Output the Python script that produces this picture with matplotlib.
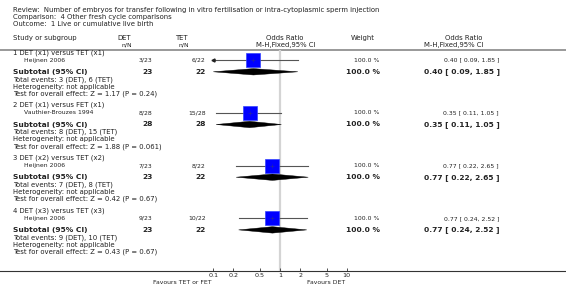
import numpy as np
import matplotlib
matplotlib.use('Agg')
import matplotlib.pyplot as plt
from matplotlib.patches import Polygon

# Dados
review = 'Review:  Number of embryos for transfer following in vitro fertilisation or intra-cytoplasmic sperm injection'
comparison = 'Comparison:  4 Other fresh cycle comparisons'
outcome = 'Outcome:  1 Live or cumulative live birth'

groups = ['1 DET (x1) versus TET (x1)', '2 DET (x1) versus FET (x1)',
          '3 DET (x2) versus TET (x2)', '4 DET (x3) versus TET (x3)']
studies = ['Heijnen 2006', 'Vauthier-Brouzes 1994', 'Heijnen 2006', 'Heijnen 2006']
det_events = [3, 8, 7, 9]
det_total = [23, 28, 23, 23]
tet_events = [6, 15, 8, 10]
tet_total = [22, 28, 22, 22]
ctrl_label = ['TET', 'TET', 'TET', 'TET']
weights = [100.0, 100.0, 100.0, 100.0]
or_est = [0.40, 0.35, 0.77, 0.77]
ci_low = [0.09, 0.11, 0.22, 0.24]
ci_high = [1.85, 1.05, 2.65, 2.52]
z_vals = ['1.17', '1.88', '0.42', '0.43']
p_vals = ['0.24', '0.061', '0.67', '0.67']
ticks = [0.1, 0.2, 0.5, 1, 2, 5, 10]
tick_labels = ['0.1', '0.2', '0.5', '1', '2', '5', '10']

W, H = 566, 301
fig = plt.figure(figsize=(W / 100, H / 100), dpi=100)
ax = fig.add_axes([0, 0, 1, 1])
ax.set_xlim(0, W)
ax.set_ylim(H, 0)
ax.axis('off')

txt = '#222222'
fs = 4.95
fs_small = 4.4
fs_bold = 5.4

# Cabecalho
ax.text(13, 10, review, fontsize=fs, va='center', color=txt)
ax.text(13, 17.3, comparison, fontsize=fs, va='center', color=txt)
ax.text(13, 24, outcome, fontsize=fs, va='center', color=txt)

ax.text(13, 38.3, 'Study or subgroup', fontsize=fs, va='center', color=txt)
ax.text(124.5, 38.3, 'DET', fontsize=fs, va='center', ha='center', color=txt)
ax.text(127, 44.7, 'n/N', fontsize=fs_small, va='center', ha='center', color=txt)
ax.text(181, 38.3, 'TET', fontsize=fs, va='center', ha='center', color=txt)
ax.text(184, 44.7, 'n/N', fontsize=fs_small, va='center', ha='center', color=txt)
ax.text(303, 38.3, 'Odds Ratio', fontsize=fs, va='center', ha='right', color=txt)
ax.text(315, 44.7, 'M-H,Fixed,95% CI', fontsize=fs, va='center', ha='right', color=txt)
ax.text(351, 38.3, 'Weight', fontsize=fs, va='center', color=txt)
ax.text(482, 38.3, 'Odds Ratio', fontsize=fs, va='center', ha='right', color=txt)
ax.text(484, 44.7, 'M-H,Fixed,95% CI', fontsize=fs, va='center', ha='right', color=txt)
ax.plot([0, W], [49.5, 49.5], color='#888888', lw=1.2)

# Eixo do forest plot (escala log), alinhado em pixels
x0, x1 = 213.3, 346.7
y_top, y_bot = 49.5, 271.3
fax = fig.add_axes([x0 / W, 1 - y_bot / H, (x1 - x0) / W, (y_bot - y_top) / H])
fax.set_xscale('log')
fax.set_xlim(0.1, 10)
fax.set_ylim(y_bot, y_top)
fax.patch.set_visible(False)
for s in fax.spines.values():
    s.set_visible(False)
fax.set_yticks([])
fax.set_xticks(ticks)
fax.set_xticklabels(tick_labels)
fax.minorticks_off()
fax.tick_params(axis='x', direction='in', length=2.5, width=0.6, color='#333333',
                labelsize=4.6, pad=1.5, labelcolor=txt)
for lab in fax.get_xticklabels():
    lab.set_x(lab.get_position()[0])
fax.axvline(1, color='#d4d4d4', lw=1.6, zorder=0)

ax.plot([0, W], [271.3, 271.3], color='#333333', lw=0.8)
ax.text(182, 282, 'Favours TET or FET', fontsize=fs_small, ha='center', va='center', color=txt)
ax.text(326, 282, 'Favours DET', fontsize=fs_small, ha='center', va='center', color=txt)

for i in range(len(groups)):
    gy = 52.5 + i * 52.7
    sy = gy + 7.8
    ty = gy + 19.3
    ax.text(13, gy, groups[i], fontsize=fs, va='center', color=txt)
    ax.text(24, sy, studies[i], fontsize=fs_small, va='center', color=txt)
    ax.text(152.7, sy, f'{det_events[i]}/{det_total[i]}', fontsize=fs_small, va='center', ha='right', color=txt)
    ax.text(205.7, sy, f'{tet_events[i]}/{tet_total[i]}', fontsize=fs_small, va='center', ha='right', color=txt)
    ax.text(13, ty, 'Subtotal (95% CI)', fontsize=fs_bold, fontweight='bold', va='center', color=txt)
    ax.text(152.7, ty, str(det_total[i]), fontsize=fs_bold, fontweight='bold', va='center', ha='right', color=txt)
    ax.text(205.7, ty, str(tet_total[i]), fontsize=fs_bold, fontweight='bold', va='center', ha='right', color=txt)
    ax.text(13, ty + 7.6, f'Total events: {det_events[i]} (DET), {tet_events[i]} ({ctrl_label[i]})',
            fontsize=fs, va='center', color=txt)
    ax.text(13, ty + 14.8, 'Heterogeneity: not applicable', fontsize=fs, va='center', color=txt)
    ax.text(13, ty + 22, f'Test for overall effect: Z = {z_vals[i]} (P = {p_vals[i]})',
            fontsize=fs, va='center', color=txt)

    ci_txt = f'{or_est[i]:.2f} [ {ci_low[i]:.2f}, {ci_high[i]:.2f} ]'
    ax.text(379, sy, f'{weights[i]:.1f} %', fontsize=fs_small, va='center', ha='right', color=txt)
    ax.text(499, sy, ci_txt, fontsize=fs_small, va='center', ha='right', color=txt)
    ax.text(380, ty, f'{weights[i]:.1f} %', fontsize=fs_bold, fontweight='bold', va='center', ha='right', color=txt)
    ax.text(500, ty, ci_txt, fontsize=fs_bold, fontweight='bold', va='center', ha='right', color=txt)

    # linha do IC (com seta se sair do eixo)
    lo = max(ci_low[i], 0.1)
    fax.plot([lo, ci_high[i]], [sy, sy], color='#555555', lw=0.8, clip_on=False, zorder=2)
    if ci_low[i] < 0.1:
        fax.plot([0.1], [sy], marker='<', ms=2.2, color='#222222', clip_on=False, zorder=3)
    fax.plot([or_est[i]], [sy], marker='s', ms=9.4, mfc='#0000ff', mec='#3344ff', mew=0.5,
             clip_on=False, zorder=4)
    fax.plot([or_est[i]], [sy], marker='+', ms=2.5, color='#2222aa', mew=0.5, clip_on=False, zorder=5)

    # losango
    dlo = max(ci_low[i], 0.1)
    diamond = Polygon([[dlo, ty], [or_est[i], ty - 3.2], [ci_high[i], ty], [or_est[i], ty + 3.2]],
                      closed=True, facecolor='black', edgecolor='black', lw=0.3, clip_on=False, zorder=3)
    fax.add_patch(diamond)

plt.savefig('out.png', dpi=100)
